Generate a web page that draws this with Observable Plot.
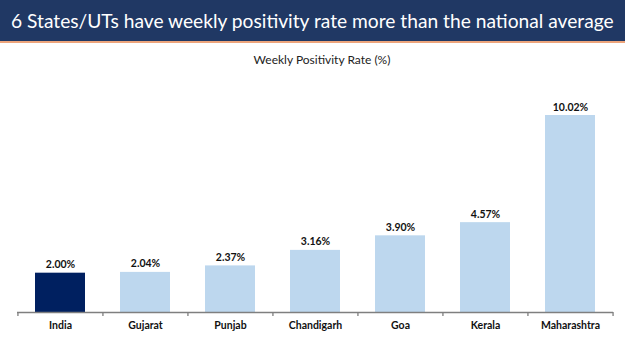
<!DOCTYPE html>
<html>
<head>
<meta charset="utf-8">
<script src="https://cdn.jsdelivr.net/npm/d3@7"></script>
<script src="https://cdn.jsdelivr.net/npm/@observablehq/plot@0.6"></script>
<style>
  body { margin: 0; width: 625px; height: 351px; overflow: hidden; background: #fff; }
  #title { height: 41px; background: #203864; border-bottom: 2px solid #EDA57C; color: #fff;
           font-family: Lato, sans-serif; font-size: 19.2px; line-height: 42px; padding-left: 11px; white-space: nowrap; box-sizing: content-box; }
  #sub { height: 30px; text-align: center; padding-left: 19px; box-sizing: border-box;
         font-family: Lato, sans-serif; font-size: 12px; line-height: 34px; color: #222; }
  #chart svg { display: block; }
</style>
</head>
<body>
<div id="title">6 States/UTs have weekly positivity rate more than the national average</div>
<div id="sub">Weekly Positivity Rate (%)</div>
<div id="chart"></div>
<script>
const categories = ["India", "Gujarat", "Punjab", "Chandigarh", "Goa", "Kerala", "Maharashtra"];
const values = [2.00, 2.04, 2.37, 3.16, 3.90, 4.57, 10.02];
const valueLabels = ["2.00%", "2.04%", "2.37%", "3.16%", "3.90%", "4.57%", "10.02%"];
const highlight = "India";

const data = categories.map((c, i) => ({category: c, value: values[i], label: valueLabels[i]}));

const W = 625, H = 278, ML = 17, MR = 12;
const step = (W - ML - MR) / categories.length;

const chart = Plot.plot({
  width: W,
  height: H,
  marginTop: 42,
  marginBottom: 39,
  marginLeft: ML,
  marginRight: MR,
  style: {fontFamily: "Lato, sans-serif", background: "transparent", color: "#111"},
  x: {domain: categories, paddingInner: 0.41, paddingOuter: 0.205, label: null},
  y: {domain: [0, 10.02], axis: null},
  marks: [
    Plot.barY(data, {x: "category", y: "value",
      fill: d => d.category === highlight ? "#002060" : "#BDD7EE"}),
    Plot.ruleY([0], {stroke: "#7f7f7f", strokeWidth: 1.3}),
    Plot.ruleX(categories, {x: d => d, y1: 0, y2: 0, insetBottom: -4, dx: -step / 2, stroke: "#7f7f7f", strokeWidth: 1.3}),
    Plot.ruleX(categories.slice(-1), {x: d => d, y1: 0, y2: 0, insetBottom: -4, dx: step / 2, stroke: "#7f7f7f", strokeWidth: 1.3}),
    Plot.text(data, {x: "category", y: "value", text: "label", lineAnchor: "bottom", dy: -5,
      fontWeight: "bold", fontSize: 10.5, fill: "#111"}),
    Plot.axisX({tickSize: 0, tickPadding: 9.5, fontSize: 10.5, fontWeight: "bold", fill: "#111", label: null})
  ]
});
document.getElementById("chart").append(chart);
</script>
</body>
</html>
